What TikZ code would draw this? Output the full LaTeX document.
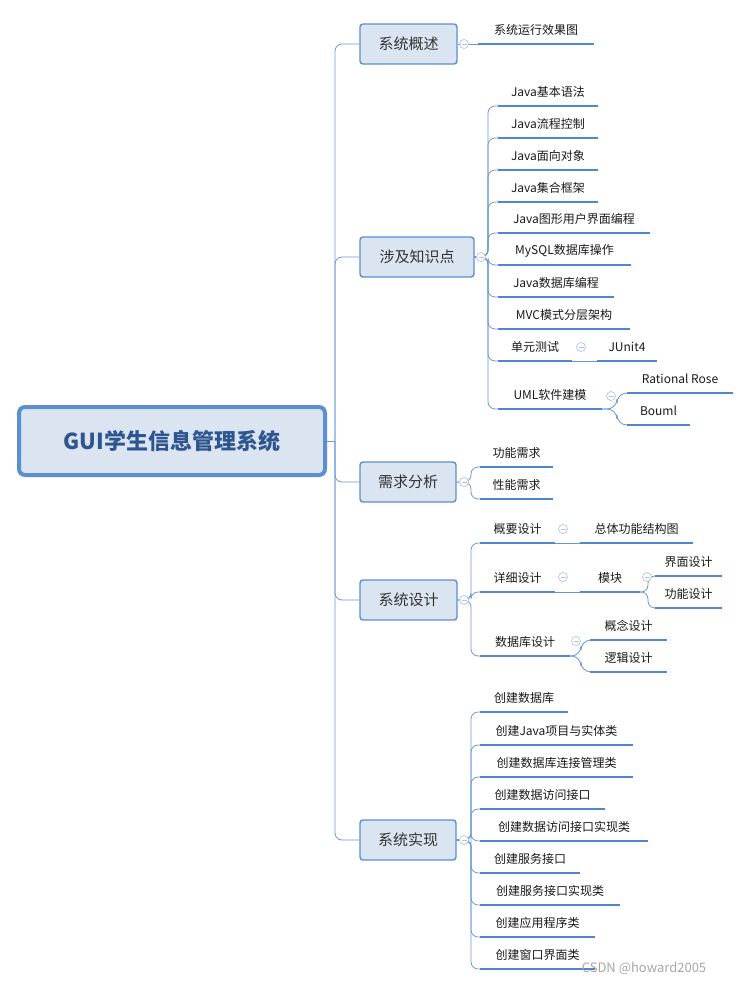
\documentclass[tikz,border=0pt]{standalone}
\usepackage{fontspec}
\setmainfont{Noto Sans CJK SC}
\definecolor{mainblue}{HTML}{5B8FD0}
\definecolor{mainfill}{HTML}{DBE4F1}
\definecolor{linkblue}{HTML}{6A98D4}
\definecolor{ulblue}{HTML}{4F86D0}
\definecolor{roottext}{HTML}{2E5590}
\tikzset{font={\fontsize{12pt}{14}\selectfont}}
\tikzset{
  topic/.style={draw=mainblue, fill=mainfill, rounded corners=3pt, line width=1.4pt,
    minimum height=40pt, inner xsep=12pt, font={\fontsize{15pt}{18}\selectfont}, text=black!80},
  leaf/.style={inner sep=0pt, text=black!90},
  link/.style={draw=linkblue, line width=0.8pt, rounded corners=7pt},
  uline/.style={draw=ulblue, line width=2.6pt},
  fold/.style={draw=linkblue!55, fill=white, line width=0.7pt}
}
% child topic: name, left x, right x, text y, text
\newcommand\sub[5]{%
  \node[leaf] (#1) at ({(#2+#3)/2},#4) {#5};
  \coordinate (#1-l) at (#2,#4+14);
  \coordinate (#1-r) at (#3,#4+14);
  \draw[uline] (#1-l) -- (#1-r);}
% collapse mark
\newcommand\fold[2]{%
  \draw[fold] (#1,#2) circle (4.5pt);
  \draw[linkblue!55, line width=0.7pt] (#1-2.5,#2) -- (#1+2.5,#2);}

\begin{document}
\begin{tikzpicture}[x=1pt, y=-1pt]
\useasboundingbox (0,0) rectangle (750,985);
% root and main topics
\node[draw=mainblue, fill=mainfill, rounded corners=6pt, line width=4pt,
  minimum width=306pt, minimum height=68pt, text=roottext,
  font={\fontsize{22pt}{26}\selectfont\bfseries}] (root) at (172,441) {GUI学生信息管理系统};
\node[topic, minimum width=97pt] (overview) at (408.5,44) {系统概述};
\node[topic, minimum width=114pt] (know) at (417,257) {涉及知识点};
\node[topic, minimum width=96pt] (need) at (408,482) {需求分析};
\node[topic, minimum width=97pt] (design) at (408.5,600) {系统设计};
\node[topic, minimum width=96pt] (impl) at (408,840) {系统实现};
\coordinate (spine) at (335,441);
\draw[link] (root.east) -- (spine);
\foreach \m in {overview, know, need, design, impl}
  \draw[link] (spine) -- (spine |- \m.west) -- (\m.west);

% 系统概述
\sub{run}{478}{594}{30}{系统运行效果图}
\draw[link] (overview.east) -- (run-l);
\fold{464}{44}

% 涉及知识点
\sub{basic}{498}{598}{92}{Java基本语法}
\sub{flow}{498}{598}{124}{Java流程控制}
\sub{oop}{498}{598}{156}{Java面向对象}
\sub{coll}{498}{598}{188}{Java集合框架}
\sub{gui}{498}{650}{219}{Java图形用户界面编程}
\sub{mysql}{498}{631}{251}{MySQL数据库操作}
\sub{jdbc}{498}{614}{283}{Java数据库编程}
\sub{mvc}{498}{630}{315}{MVC模式分层架构}
\sub{unit}{498}{572}{347}{单元测试}
\sub{uml}{498}{602}{395}{UML软件建模}
\foreach \c in {basic, flow, oop, coll, gui, mysql, jdbc, mvc, unit, uml}
  \draw[link] (know.east) -- (488,257) -- (488,0 |- \c-l) -- (\c-l);
\fold{481}{257}
\sub{junit}{597}{657}{347}{JUnit4}
\draw[link] (unit-r) -- (junit-l);
\fold{581}{347}
\sub{rose}{627}{733}{379}{Rational Rose}
\sub{bouml}{627}{690}{411}{Bouml}
\foreach \c in {rose, bouml}
  \draw[link, rounded corners=10pt] (uml-r) -- (617,409) -- (617,0 |- \c-l) -- (\c-l);
\fold{611}{396}

% 需求分析
\sub{func}{480}{553}{453}{功能需求}
\sub{perf}{480}{553}{485}{性能需求}
\foreach \c in {func, perf}
  \draw[link] (need.east) -- (471,482) -- (471,0 |- \c-l) -- (\c-l);
\fold{464}{482}

% 系统设计
\sub{brief}{480}{555}{529}{概要设计}
\sub{detail}{480}{555}{578}{详细设计}
\sub{dbd}{480}{570}{642}{数据库设计}
\foreach \c in {brief, detail, dbd}
  \draw[link] (design.east) -- (471,600) -- (471,0 |- \c-l) -- (\c-l);
\fold{464}{600}
\sub{struct}{580}{693}{529}{总体功能结构图}
\draw[link] (brief-r) -- (struct-l);
\fold{563}{529}
\sub{module}{580}{640}{578}{模块}
\draw[link] (detail-r) -- (module-l);
\fold{563}{577}
\sub{ui}{655}{722}{562}{界面设计}
\sub{fn}{655}{722}{594}{功能设计}
\foreach \c in {ui, fn}
  \draw[link] (module-r) -- (648,592) -- (648,0 |- \c-l) -- (\c-l);
\fold{647}{577}
\sub{concept}{590}{667}{626}{概念设计}
\sub{logic}{590}{667}{658}{逻辑设计}
\foreach \c in {concept, logic}
  \draw[link, rounded corners=10pt] (dbd-r) -- (581,656) -- (581,0 |- \c-l) -- (\c-l);
\fold{576}{641}

% 系统实现
\sub{i1}{480}{568}{698}{创建数据库}
\sub{i2}{480}{633}{731}{创建Java项目与实体类}
\sub{i3}{480}{633}{763}{创建数据库连接管理类}
\sub{i4}{480}{605}{795}{创建数据访问接口}
\sub{i5}{480}{648}{827}{创建数据访问接口实现类}
\sub{i6}{480}{580}{859}{创建服务接口}
\sub{i7}{480}{620}{891}{创建服务接口实现类}
\sub{i8}{480}{595}{923}{创建应用程序类}
\sub{i9}{480}{595}{955}{创建窗口界面类}
\foreach \c in {i1, i2, i3, i4, i5, i6, i7, i8, i9}
  \draw[link] (impl.east) -- (471,840) -- (471,0 |- \c-l) -- (\c-l);
\fold{464}{840}

\node[text=black!35, inner sep=0pt, font={\fontsize{13pt}{15}\selectfont}] (mark) at (644,968) {CSDN @howard2005};
\end{tikzpicture}
\end{document}
